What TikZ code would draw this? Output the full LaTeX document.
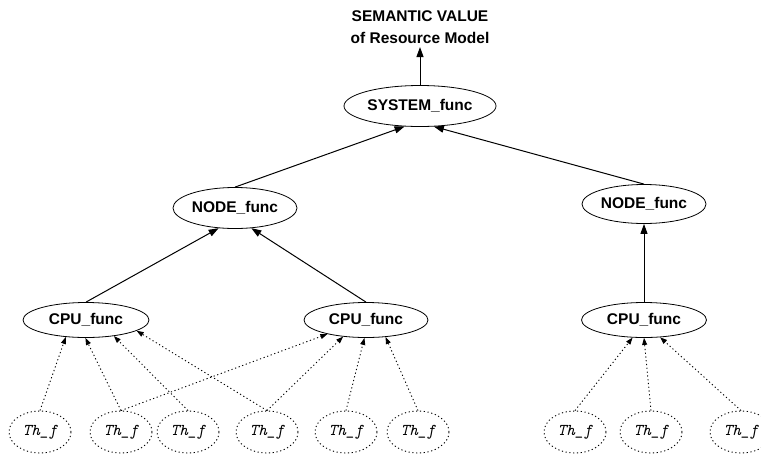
\documentclass[tikz,border=0pt]{standalone}
\usepackage{fontspec}
\setmainfont{Liberation Sans}
\usetikzlibrary{arrows.meta,shapes.geometric}
\tikzset {
  >={Triangle[length=10pt,width=7pt]},
  every node/.style={font=\fontsize{15.5}{22}\selectfont\bfseries},
  func/.style={draw,ellipse,line width=0.8pt,inner sep=0pt},
  thread/.style={draw,ellipse,line width=0.9pt,dash pattern=on 1.2pt off 2.6pt,
    minimum width=62pt,minimum height=42pt,inner sep=0pt,
    font=\fontsize{16.5}{18}\selectfont\ttfamily\itshape},
  link/.style={->,line width=1pt},
  call/.style={-{Triangle[length=7pt,width=5pt]},line width=0.9pt,
    dash pattern=on 1.2pt off 2.6pt},
}
\begin{document}
\begin{tikzpicture}[x=1pt,y=-1pt]
  \useasboundingbox (0,0) rectangle (761,456);

  \node (value) at (420,27)[align=center]{SEMANTIC VALUE\\of Resource Model};
  \node (sys) at (420,106)[func,minimum width=152pt,minimum height=41pt]{SYSTEM\_func};

  \node (nodeA) at (235,208)[func,minimum width=124pt,minimum height=41pt]{NODE\_func};
  \node (nodeB) at (644,204)[func,minimum width=124pt,minimum height=39pt]{NODE\_func};

  \node (cpuA) at (86,320)[func,minimum width=126pt,minimum height=35pt]{CPU\_func};
  \node (cpuB) at (366,320)[func,minimum width=124pt,minimum height=35pt]{CPU\_func};
  \node (cpuC) at (644,320)[func,minimum width=125pt,minimum height=35pt]{CPU\_func};

  \node (th1) at (40,432)[thread]{Th\_f};
  \node (th2) at (121,432)[thread]{Th\_f};
  \node (th3) at (188,432)[thread]{Th\_f};
  \node (th4) at (267,432)[thread]{Th\_f};
  \node (th5) at (346,432)[thread]{Th\_f};
  \node (th6) at (418,432)[thread]{Th\_f};
  \node (th7) at (575,432)[thread]{Th\_f};
  \node (th8) at (651,432)[thread]{Th\_f};
  \node (th9) at (741,432)[thread]{Th\_f};

  % solid links up the tree
  \draw[link] (sys) -- (value);
  \draw[link] (nodeA.north) -- (sys.233);
  \draw[link] (nodeB.north) -- (sys.304);
  \draw[link] (cpuA.north) -- (nodeA.231);
  \draw[link] (cpuB.north) -- (nodeA.309);
  \draw[link] (cpuC) -- (nodeB);

  % threads
  \draw[call] (th1.north) -- (cpuA.220);
  \draw[call] (th2.north) -- (cpuA.268);
  \draw[call] (th3.north) -- (cpuA.330);
  \draw[call] (th4.north) -- (cpuA.348);
  \draw[call] (th2.north) -- (cpuB.200);
  \draw[call] (th4.north) -- (cpuB.216);
  \draw[call] (th5.north) -- (cpuB.265);
  \draw[call] (th6.north) -- (cpuB.319);
  \draw[call] (th7.north) -- (cpuC.237);
  \draw[call] (th8.north) -- (cpuC.270);
  \draw[call] (th9.north) -- (cpuC.313);
\end{tikzpicture}
\end{document}
